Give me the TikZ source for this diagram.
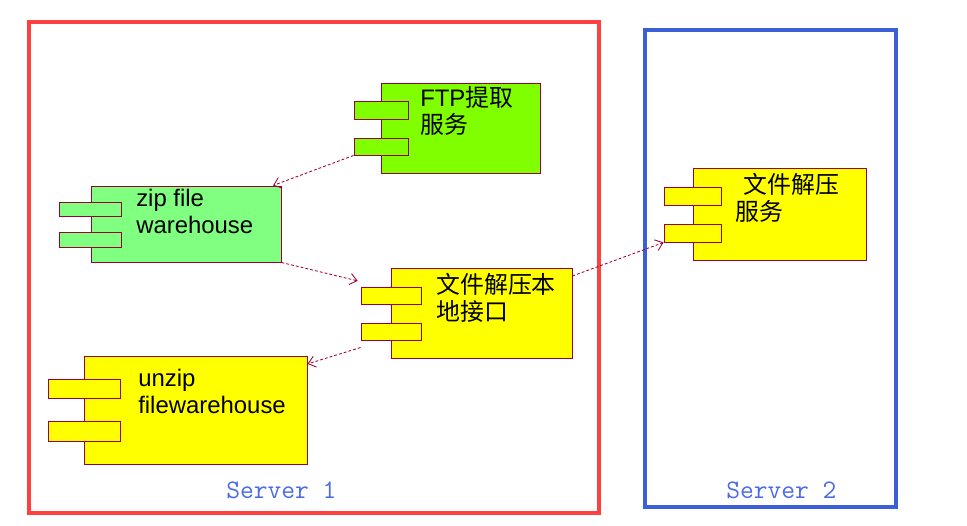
\documentclass[tikz,border=0pt]{standalone}
\usepackage{fontspec}
\setmainfont{Liberation Sans}
\newfontfamily\cjk{Noto Sans CJK SC}
\usetikzlibrary{fit,arrows.meta}

\definecolor{compline}{HTML}{990033}
\definecolor{ftpgreen}{HTML}{80FF00}
\definecolor{zipgreen}{HTML}{80FF80}
\definecolor{unzipyellow}{HTML}{FFFF00}
\definecolor{srvred}{HTML}{FF4040}
\definecolor{srvblue}{HTML}{3A5FD6}
\definecolor{srvtext}{HTML}{4A6AE8}

\newcommand\zh[1]{{\cjk #1}}

\tikzset{
  body/.style={draw=compline, line width=0.7pt, inner sep=0pt},
  tab/.style={draw=compline, line width=0.7pt, inner sep=0pt},
  dep/.style={draw=compline, dash pattern=on 2pt off 1.5pt, line width=0.6pt,
    -{Straight Barb[length=5pt,width=8pt]}},
  compname/.style={anchor=base west, inner sep=0pt, align=left,
    font=\fontsize{17}{18.5}\selectfont},
  server/.style={line width=2.2pt},
  srvname/.style={anchor=base west, inner sep=0pt, text=srvtext,
    font=\ttfamily\fontsize{19}{21}\selectfont}
}

\begin{document}
\begin{tikzpicture}[x=0.025cm, y=-0.025cm]
\useasboundingbox (0,0) rectangle (967,526);
% servers
\draw [server, draw=srvred] (29,22) rectangle (599,513);
\draw [server, draw=srvblue] (645,30) rectangle (896,507);
\node [srvname] (s1) at (226,498) {Server 1};
\node [srvname] (s2) at (726,498) {Server 2};
% FTP
\node [body, fill=ftpgreen, fit={(381,83) (540,173)}] (ftp) {};
\node [tab, fill=ftpgreen, fit={(354,101) (408,119)}] (ftp-t1) {};
\node [tab, fill=ftpgreen, fit={(354,138) (408,155)}] (ftp-t2) {};
\node [compname] at (420,133) {FTP\zh{提取}\\\zh{服务}};
% zip file warehouse
\node [body, fill=zipgreen, fit={(91,186) (281,262)}] (zip) {};
\node [tab, fill=zipgreen, fit={(59,202) (121,216)}] (zip-t1) {};
\node [tab, fill=zipgreen, fit={(59,232) (121,247)}] (zip-t2) {};
\node [compname] at (136,233) {zip file\\warehouse};
% local interface
\node [body, fill=unzipyellow, fit={(391,268) (572,358)}] (loc) {};
\node [tab, fill=unzipyellow, fit={(361,287) (421,304)}] (loc-t1) {};
\node [tab, fill=unzipyellow, fit={(361,323) (421,340)}] (loc-t2) {};
\node [compname] at (436,320) {\zh{文件解压本}\\\zh{地接口}};
% unzip filewarehouse
\node [body, fill=unzipyellow, fit={(84,356) (307,464)}] (unzip) {};
\node [tab, fill=unzipyellow, fit={(48,379) (120,398)}] (unzip-t1) {};
\node [tab, fill=unzipyellow, fit={(48,421) (120,441)}] (unzip-t2) {};
\node [compname] at (138,413) {unzip\\filewarehouse};
% unzip service on server 2
\node [body, fill=unzipyellow, fit={(693,168) (866,260)}] (svc) {};
\node [tab, fill=unzipyellow, fit={(664,187) (721,205)}] (svc-t1) {};
\node [tab, fill=unzipyellow, fit={(664,224) (721,242)}] (svc-t2) {};
\node [compname] at (743,193) {\zh{文件解压}};
\node [compname] at (735,220) {\zh{服务}};
% dependencies
\draw [dep] (ftp-t2.south west) -- ([xshift=-6pt]zip.north east);
\draw [dep] (zip.south east) -- ([yshift=4pt,xshift=-2pt]loc-t1.north west);
\draw [dep] ([yshift=-5pt]loc-t2.south west) -- ([yshift=-6pt]unzip.north east);
\draw [dep] ([yshift=-6pt]loc.north east) -- (svc-t2.south west);
\end{tikzpicture}
\end{document}
